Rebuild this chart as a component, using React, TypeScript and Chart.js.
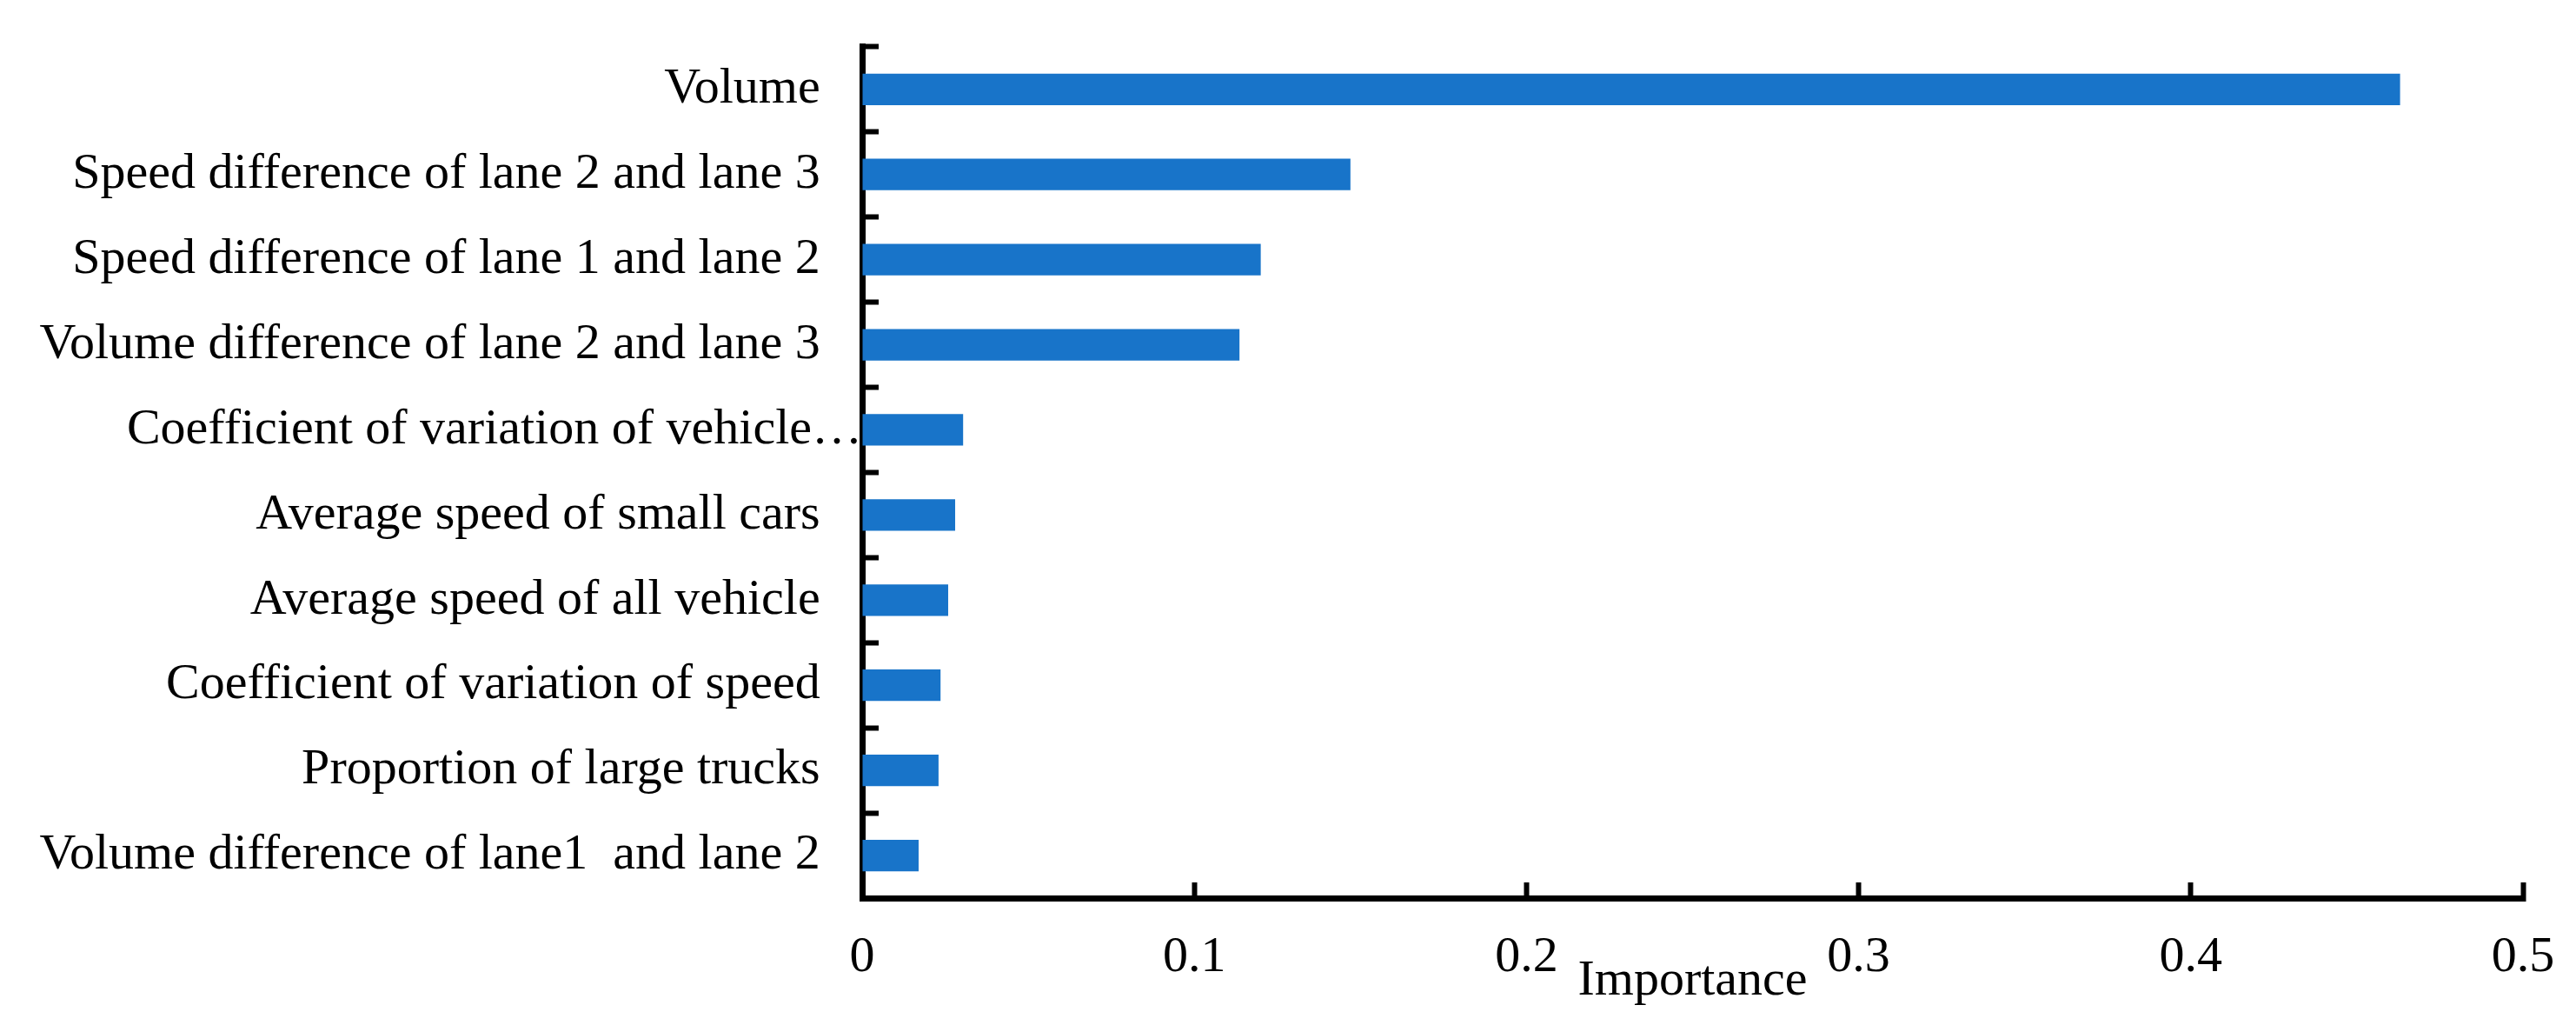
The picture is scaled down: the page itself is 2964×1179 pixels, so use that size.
import React, { useEffect, useRef } from "react";
import { Chart, registerables } from "chart.js";

Chart.register(...registerables);

const categories = [
  "Volume",
  "Speed difference of lane 2 and lane 3",
  "Speed difference of lane 1 and lane 2",
  "Volume difference of lane 2 and lane 3",
  "Coefficient of variation of vehicle…",
  "Average speed of small cars",
  "Average speed of all vehicle",
  "Coefficient of variation of speed",
  "Proportion of large trucks",
  "Volume difference of lane1  and lane 2",
];

const importance = [0.463, 0.147, 0.12, 0.1136, 0.0304, 0.028, 0.0259, 0.0236, 0.023, 0.017];

const xMin = 0;
const xMax = 0.5;
const xStep = 0.1;
const axisTitle = "Importance";

const FONT = "'Liberation Serif', 'Times New Roman', Times, serif";
const BAR_COLOR = "rgb(24,116,201)";
const LABEL_PAD = "\u2002\u2004";

export default function App() {
  const ref = useRef<HTMLCanvasElement | null>(null);

  useEffect(() => {
    document.body.style.margin = "0";
    document.body.style.overflow = "hidden";
    const canvas = ref.current;
    if (!canvas) return;
    const chart = new Chart(canvas, {
      type: "bar",
      data: {
        labels: categories,
        datasets: [
          {
            data: importance,
            backgroundColor: BAR_COLOR,
            borderWidth: 0,
            barPercentage: 0.37,
            categoryPercentage: 1,
          },
        ],
      },
      options: {
        indexAxis: "y",
        animation: false,
        responsive: false,
        devicePixelRatio: 1,
        layout: { padding: { top: 53, right: 61, bottom: 0, left: 0 } },
        plugins: {
          legend: { display: false },
          tooltip: { enabled: false },
        },
        scales: {
          x: {
            type: "linear",
            min: xMin,
            max: xMax,
            z: 1,
            afterFit: (s: any) => {
              s.height = 146;
              s.paddingRight = 0;
              s.paddingLeft = 0;
            },
            ticks: {
              stepSize: xStep,
              color: "#000",
              padding: 52,
              maxRotation: 0,
              font: { family: FONT, size: 58 },
              callback: (v: any) => String(Math.round(Number(v) * 10) / 10),
            },
            grid: {
              drawOnChartArea: false,
              drawTicks: true,
              tickLength: -18,
              tickWidth: 6,
              tickColor: "#000",
            },
            border: { display: true, color: "#000", width: 7 },
            title: {
              display: true,
              text: axisTitle,
              color: "#000",
              font: { family: FONT, size: 58 },
              padding: { top: 0, bottom: 15 },
            },
          },
          y: {
            type: "category",
            z: 1,
            afterFit: (s: any) => {
              s.width = 992;
            },
            ticks: {
              color: "#000",
              padding: 19,
              font: { family: FONT, size: 58 },
              autoSkip: false,
              callback: (_v: any, i: number) => {
                const l = categories[i];
                return l.endsWith("…") ? l : l + LABEL_PAD;
              },
            },
            grid: {
              offset: true,
              drawOnChartArea: false,
              drawTicks: true,
              tickLength: -19,
              tickWidth: 6,
              tickColor: "#000",
            },
            border: { display: true, color: "#000", width: 7 },
          },
        },
      },
    } as any);
    return () => chart.destroy();
  }, []);

  return (
    <div style={{ width: 2964, height: 1179, background: "#fff" }}>
      <canvas ref={ref} width={2964} height={1179} style={{ display: "block", width: 2964, height: 1179 }} />
    </div>
  );
}
